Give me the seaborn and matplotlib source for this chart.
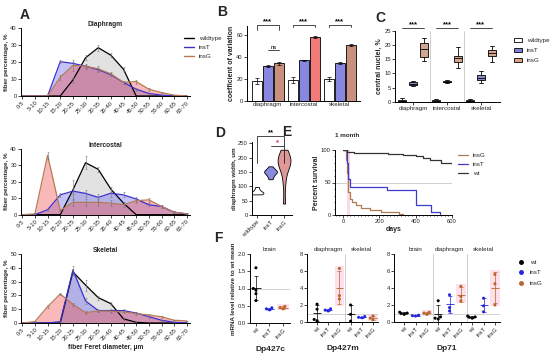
import numpy as np
import pandas as pd
import matplotlib.pyplot as plt
import seaborn as sns
from matplotlib.lines import Line2D
from matplotlib.patches import Patch, Rectangle
from matplotlib.ticker import MultipleLocator

# ---------------- data ----------------
bins = ['0-5', '5-10', '10-15', '15-20', '20-25', '25-30', '30-35', '35-40',
        '40-45', '45-50', '50-55', '55-60', '60-65', '65-70']

# A: fiber size distribution, %
dia_wt = [0, 0, 0, 0, 9.4, 22.5, 28.4, 24, 15.7, 0, 0, 0, 0, 0]
dia_insT = [0, 0, 0, 20.2, 19.2, 17.5, 15.5, 12.5, 8, 4, 1.5, 0.5, 0, 0]
dia_insG = [0, 0, 0, 11, 18, 17.5, 16, 13, 8, 8.5, 4, 2, 0.5, 0]
dia_wt_err = [0, 0, 0, 0, 2, 1.5, 1.8, 1.2, 1.2, 0, 0, 0, 0, 0]
dia_insT_err = [0, 0, 0, 0.8, 1, 1, 1.2, 1, 1, 0.8, 0.5, 0.3, 0, 0]
dia_insG_err = [0, 0, 0, 1.5, 3, 1.5, 1.5, 1.2, 1, 1.2, 0.8, 0.5, 0.3, 0]

int_wt = [0, 0, 0, 0, 15, 31.5, 27.5, 15.5, 7, 0, 0, 0, 0, 0]
int_insT = [0, 0, 3, 12, 14.3, 12.9, 10.5, 13, 12, 9.5, 6, 5, 1.5, 0.5]
int_insG = [0, 0.5, 36, 2.5, 7.5, 7.5, 7.5, 7, 6, 8.5, 9, 5, 1.5, 0.5]
int_wt_err = [0, 0, 0, 0, 6, 4, 1.5, 1.5, 1, 0, 0, 0, 0, 0]
int_insT_err = [0, 0, 0.5, 1, 1.5, 2, 2, 2, 1.5, 1.5, 1, 1, 0.5, 0.3]
int_insG_err = [0, 0.3, 2, 0.5, 2, 2, 2, 2, 1.5, 1.5, 1, 1, 0.5, 0.3]

skel_wt = [0, 0, 0, 0, 37, 27.5, 18.4, 14, 3, 0.5, 0, 0, 0, 0]
skel_insT = [0, 0, 0, 1, 38.4, 16, 9, 9, 9, 7.2, 4.6, 2, 0.5, 0]
skel_insG = [0, 1, 11.8, 21, 13.5, 7.5, 8.7, 8.5, 8, 6.8, 5.8, 4.5, 2, 1.5]
skel_wt_err = [0, 0, 0, 0, 2, 4, 1.5, 1, 0.5, 0.3, 0, 0, 0, 0]
skel_insT_err = [0, 0, 0, 0.5, 3, 2, 1, 1, 1, 1, 0.8, 0.5, 0.3, 0]
skel_insG_err = [0, 0.3, 1, 1, 1, 1, 1, 1, 1, 1, 0.8, 0.8, 0.5, 0.3]

# B: coefficient of variation
tissues = ['diaphragm', 'intercostal', 'skeletal']
cov_wt = [17.8, 18.7, 20.0]
cov_insT = [31.8, 37.0, 34.6]
cov_insG = [34.0, 57.7, 50.5]
cov_wt_err = [3.0, 3.0, 2.0]
cov_insT_err = [1.0, 0.5, 1.0]
cov_insG_err = [1.5, 1.0, 1.0]

# C: central nuclei, % (whisker low, q1, median, q3, whisker high)
cn_dia_wt = [0.0, 0.2, 0.4, 0.6, 1.3]
cn_dia_insT = [5.5, 6.0, 6.4, 6.8, 7.4]
cn_dia_insG = [14.5, 15.9, 18.5, 20.6, 22.6]
cn_int_wt = [0.0, 0.1, 0.3, 0.5, 0.8]
cn_int_insT = [6.5, 6.8, 7.0, 7.2, 7.5]
cn_int_insG = [11.8, 14.1, 15.3, 16.1, 19.4]
cn_skel_wt = [0.0, 0.1, 0.3, 0.5, 0.8]
cn_skel_insT = [6.5, 7.7, 8.5, 9.4, 10.8]
cn_skel_insG = [14.1, 16.1, 17.3, 18.3, 19.8]

# D: diaphragm width, um
dw_wt = [72, 74, 76, 78, 80, 84, 90, 98]
dw_insT = [125, 135, 142, 148, 150, 152, 156, 160, 170]
dw_insG = [40, 110, 150, 170, 180, 185, 190, 195, 200, 210, 228]

# E: survival, %
surv_wt_days = [0, 20, 60, 150, 250, 330, 400, 440, 480, 540, 600]
surv_wt = [100, 97, 96, 95, 94, 92, 90, 88, 85, 80, 78]
surv_insT_days = [0, 22, 26, 30, 40, 240, 400, 485, 535]
surv_insT = [100, 80, 60, 55, 43, 38, 15, 5, 0]
surv_insG_days = [0, 18, 22, 26, 30, 40, 50, 70, 100, 150, 210, 310, 330]
surv_insG = [100, 85, 65, 45, 35, 25, 20, 15, 11, 8, 5, 2, 0]

# F: mRNA relative to wt mean
f427c_wt = [1.6, 1.0, 0.95, 0.85, 0.65]
f427c_insT = [0.44, 0.41, 0.38]
f427c_insG = [0.48, 0.45, 0.41]
f427m_dia_wt = [2.1, 1.5, 0.3, 0.15]
f427m_dia_insT = [1.55, 1.4, 1.3]
f427m_dia_insG = [6.3, 3.1, 2.7]
f427m_sk_wt = [2.0, 0.9, 0.1]
f427m_sk_insT = [0.65, 0.55, 0.5]
f427m_sk_insG = [0.7, 0.45, 0.25]
f71_br_wt = [1.15, 1.05, 1.0, 0.9]
f71_br_insT = [0.8, 0.75, 0.7]
f71_br_insG = [1.15, 1.05, 0.9]
f71_dia_wt = [2.5, 0.6, 0.45, 0.35]
f71_dia_insT = [3.2, 1.3, 1.7]
f71_dia_insG = [4.2, 3.0, 2.5]
f71_sk_wt = [0.7, 0.55, 0.45, 0.6]
f71_sk_insT = [2.8, 1.9, 1.2]
f71_sk_insG = [5.6, 4.5, 2.0]

# ---------------- style ----------------
sns.set_style('ticks')
plt.rcParams['font.family'] = ['Liberation Sans', 'DejaVu Sans']
plt.rcParams.update({'axes.linewidth': 0.7, 'axes.edgecolor': 'black',
                     'xtick.major.width': 0.6, 'ytick.major.width': 0.6,
                     'xtick.major.size': 2, 'ytick.major.size': 2,
                     'xtick.minor.size': 1, 'ytick.minor.size': 1,
                     'xtick.labelsize': 4.2, 'ytick.labelsize': 4.2,
                     'xtick.major.pad': 1, 'ytick.major.pad': 1})

W, H = 550, 353
fig = plt.figure(figsize=(W / 100, H / 100), dpi=100)


def add_ax(x0, y0, x1, y1):
    # pixel box, y measured from top
    return fig.add_axes([x0 / W, 1 - y1 / H, (x1 - x0) / W, (y1 - y0) / H])


def bracket(ax, x0, x1, y, h, text, fs=5.5, color='black'):
    ax.plot([x0, x0, x1, x1], [y - h, y, y, y - h], color='black', lw=0.5, clip_on=False)
    ax.text((x0 + x1) / 2, y, text, ha='center', va='bottom', fontsize=fs,
            fontweight='bold', color=color, clip_on=False)


geno = ['wildtype', 'insT', 'insG']
line_col = {'wildtype': 'black', 'insT': '#3a30d0', 'insG': '#b87a55'}
fill_col = {'wildtype': '#b8b8b8', 'insT': '#6a6af0', 'insG': '#f05050'}

# ---------------- A ----------------
a_sets = [
    ('Diaphragm', [(dia_wt, dia_wt_err), (dia_insT, dia_insT_err), (dia_insG, dia_insG_err)], 40, 28, 96),
    ('Intercostal', [(int_wt, int_wt_err), (int_insT, int_insT_err), (int_insG, int_insG_err)], 40, 148.7, 214.7),
    ('Skeletal', [(skel_wt, skel_wt_err), (skel_insT, skel_insT_err), (skel_insG, skel_insG_err)], 50, 254, 323),
]
xb = np.arange(len(bins))
for i, (title, series, ymax, y0, y1) in enumerate(a_sets):
    ax = add_ax(21, y0, 190, y1)
    for g, (vals, errs) in zip(geno, series):
        ax.fill_between(xb, vals, color=fill_col[g], alpha=0.4, lw=0)
        sns.lineplot(x=xb, y=vals, color=line_col[g], lw=0.9, ax=ax)
        ax.errorbar(xb, vals, yerr=errs, fmt='none', ecolor='#777777', elinewidth=0.4, capsize=1, capthick=0.4)
    ax.set_xticks(xb, bins, rotation=45, ha='right', rotation_mode='anchor')
    ax.set_xlim(-0.1, 13.25)
    ax.set_ylim(0, ymax)
    ax.yaxis.set_major_locator(MultipleLocator(10))
    ax.set_ylabel('fiber percentage, %', fontsize=4.5, fontweight='bold', labelpad=1)
    ax.set_title(title, fontsize=4.8, fontweight='bold', pad=1.5)
    sns.despine(ax=ax)
    if i == 0:
        handles = [Line2D([], [], color=line_col[g], lw=1) for g in geno]
        ax.legend(handles, geno, fontsize=4.5, frameon=False, loc='upper left',
                  bbox_to_anchor=(0.93, 0.97), handlelength=1.6, labelspacing=0.6)
    if i == 2:
        ax.set_xlabel('fiber Feret diameter, µm', fontsize=4.8, fontweight='bold', labelpad=2)

# ---------------- B ----------------
ax = add_ax(247, 26, 360, 100.7)
df_b = pd.DataFrame({'tissue': tissues * 3,
                     'genotype': [g for g in geno for _ in tissues],
                     'cov': cov_wt + cov_insT + cov_insG})
sns.barplot(data=df_b, x='tissue', y='cov', hue='genotype', hue_order=geno,
            palette={'wildtype': 'white', 'insT': '#7878ee', 'insG': '#d09080'},
            width=0.92, gap=0.12, edgecolor='black', linewidth=0.6, errorbar=None,
            legend=False, ax=ax)
insG_cols = ['#c9917d', '#f07b78', '#c9917d']
for bar, c in zip(ax.containers[2], insG_cols):
    bar.set_facecolor(c)
for cont, errs in zip(ax.containers, [cov_wt_err, cov_insT_err, cov_insG_err]):
    xs = [b.get_x() + b.get_width() / 2 for b in cont]
    ys = [b.get_height() for b in cont]
    ax.errorbar(xs, ys, yerr=errs, fmt='none', ecolor='black', elinewidth=0.5, capsize=1.5, capthick=0.5)
ax.set_xlim(-0.58, 2.56)
ax.set_ylim(0, 68)
ax.yaxis.set_major_locator(MultipleLocator(20))
ax.set_xlabel('')
ax.set_ylabel('coefficient of variation', fontsize=5, fontweight='bold', labelpad=1)
ax.tick_params(axis='x', length=0, labelsize=4.5)
for k in range(3):
    bracket(ax, k - 0.3, k + 0.3, 69, 5 if k == 0 else 2, '***')
bracket(ax, 0.0, 0.3, 46, 0, 'ns', fs=4.2)
ax.texts[-1].set_fontweight('normal')
sns.despine(ax=ax)

# ---------------- C ----------------
ax = add_ax(395, 31, 500, 101.7)
cn_rows = []
for t, sets in zip(tissues, [(cn_dia_wt, cn_dia_insT, cn_dia_insG),
                             (cn_int_wt, cn_int_insT, cn_int_insG),
                             (cn_skel_wt, cn_skel_insT, cn_skel_insG)]):
    for g, vals in zip(geno, sets):
        for v in vals:
            cn_rows.append((t, g, v))
df_c = pd.DataFrame(cn_rows, columns=['tissue', 'genotype', 'nuclei'])
c_pal = {'wildtype': 'white', 'insT': '#7b80d8', 'insG': '#dba38a'}
sns.boxplot(data=df_c, x='tissue', y='nuclei', hue='genotype', hue_order=geno, palette=c_pal,
            width=0.97, gap=0.35, whis=(0, 100), linewidth=0.6, linecolor='black',
            legend=False, ax=ax)
for xv in (0.5, 1.5):
    ax.axvline(xv, color='#bbbbbb', lw=0.5)
ax.set_xlim(-0.53, 2.56)
ax.set_ylim(0, 25)
ax.yaxis.set_major_locator(MultipleLocator(5))
ax.set_xlabel('')
ax.set_ylabel('central nuclei, %', fontsize=5, fontweight='bold', labelpad=1)
ax.tick_params(axis='x', length=2, labelsize=4.5)
for k in range(3):
    bracket(ax, k - 0.32, k + 0.32, 26, 0, '***')
sns.despine(ax=ax)
c_handles = [Patch(facecolor=c_pal[g], edgecolor='black', lw=0.6) for g in geno]
ax.legend(c_handles, geno, fontsize=4.5, frameon=False, loc='upper left',
          bbox_to_anchor=(1.08, 0.98), handlelength=1.2, handleheight=0.7, labelspacing=0.7)

# ---------------- D ----------------
ax = add_ax(252, 142, 292, 215)
df_d = pd.DataFrame({'genotype': ['wildtype'] * len(dw_wt) + ['insT'] * len(dw_insT) + ['insG'] * len(dw_insG),
                     'width': dw_wt + dw_insT + dw_insG})
sns.violinplot(data=df_d, x='genotype', y='width', hue='genotype', order=geno, hue_order=geno,
               palette={'wildtype': 'white', 'insT': '#7c7cea', 'insG': '#ea8c8c'},
               cut=0, inner=None, linewidth=0.6, linecolor='black', density_norm='width',
               width=0.95, bw_adjust=0.8, legend=False, ax=ax)
ax.set_xlim(-0.37, 2.59)
ax.set_ylim(0, 255)
ax.yaxis.set_major_locator(MultipleLocator(50))
ax.set_xlabel('')
ax.set_ylabel('diaphragm width, um', fontsize=4.5, fontweight='bold', labelpad=1)
ax.set_xticks([0, 1, 2], geno, rotation=45, ha='right', rotation_mode='anchor', fontsize=4.2)
bracket(ax, 0, 2, 275, 95, '**')
bracket(ax, 1, 2, 240, 0, '*', color='#d03060')
sns.despine(ax=ax)

# ---------------- E ----------------
ax = add_ax(335, 150, 452, 215)
e_col = {'wt': '#333333', 'insT': '#3c3ccc', 'insG': '#b07a50'}
for g, d, s in [('insG', surv_insG_days, surv_insG), ('insT', surv_insT_days, surv_insT),
                ('wt', surv_wt_days, surv_wt)]:
    sns.lineplot(x=d, y=s, drawstyle='steps-post', color=e_col[g], lw=0.9, label=g, ax=ax)
ax.axhline(50, color='#c8c8c8', lw=0.6, zorder=0)
ax.axvline(30, color='#999999', lw=0.5, ls='--', zorder=0)
ax.axvspan(22, 38, color='#fbd9e6', lw=0, zorder=0)
ax.set_xlim(-44, 600)
ax.set_ylim(0, 100)
ax.xaxis.set_major_locator(MultipleLocator(200))
ax.xaxis.set_minor_locator(MultipleLocator(20))
ax.yaxis.set_major_locator(MultipleLocator(50))
ax.yaxis.set_minor_locator(MultipleLocator(10))
ax.set_xlabel('days', fontsize=5, fontweight='bold', labelpad=1)
ax.set_ylabel('Percent survival', fontsize=5, fontweight='bold', labelpad=1)
ax.legend(fontsize=4.5, frameon=False, loc='upper left', bbox_to_anchor=(1.0, 1.05),
          handlelength=1.6, labelspacing=0.6)
sns.despine(ax=ax)
fig.text(347 / W, 1 - 136 / H, '1 month', fontsize=4.5, fontweight='bold', ha='center', va='center')

# ---------------- F ----------------
f_col = {'wt': 'black', 'insT': '#2424e0', 'insG': '#b8652a'}
short = ['wt', 'insT', 'insG']


def mrna_panel(box, groups, ymax, step, titles, xlabel, ylabel=None):
    ax = add_ax(*box)
    rows = []
    pos = []
    p = 0
    for gi, group in enumerate(groups):
        for g, vals in zip(short, group):
            for v in vals:
                rows.append((p, g, v))
            arr = np.array(vals)
            m, sd = arr.mean(), arr.std(ddof=1)
            if g == 'insG':
                lo = min(arr.min(), m - sd) - ymax * 0.02
                hi = max(arr.max(), m + sd) + ymax * 0.03
                ax.add_patch(Rectangle((p - 0.42, lo), 0.84, hi - lo, color='#fde0ea', lw=0, zorder=0))
            ax.errorbar(p, m, yerr=sd, fmt='none', ecolor=f_col[g], elinewidth=0.5, capsize=1.5, capthick=0.5)
            ax.hlines(m, p - 0.35, p + 0.35, color=f_col[g], lw=0.6)
            pos.append(p)
            p += 1
        if gi < len(groups) - 1:
            ax.axvline(p - 0.5, color='#bbbbbb', lw=0.5)
    df = pd.DataFrame(rows, columns=['pos', 'genotype', 'level'])
    sns.swarmplot(data=df, x='pos', y='level', hue='genotype', hue_order=short, palette=f_col,
                  native_scale=True, size=2.2, legend=False, ax=ax)
    ax.axhline(1, color='#cccccc', lw=0.6, zorder=0)
    ax.set_xticks(pos, short * len(groups), rotation=45, ha='right', rotation_mode='anchor', fontsize=4.2)
    ax.set_xlim(-0.9 if len(groups) > 1 else -0.44, pos[-1] + 0.45 if len(groups) > 1 else 2.52)
    ax.set_ylim(0, ymax)
    ax.yaxis.set_major_locator(MultipleLocator(step))
    if step < 1:
        ax.yaxis.set_major_formatter('{x:.1f}')
    ax.set_xlabel(xlabel, fontsize=6, fontweight='bold', labelpad=5)
    ax.set_ylabel(ylabel if ylabel else '', fontsize=4.5, fontweight='bold', labelpad=1)
    for k, t in enumerate(titles):
        ax.text(1 + 3 * k, ymax * 1.03, t, ha='center', va='bottom', fontsize=4.5)
    sns.despine(ax=ax)
    return ax


mrna_panel((250, 254, 290, 323), [(f427c_wt, f427c_insT, f427c_insG)], 2.0, 0.5,
           ['brain'], 'Dp427c', 'mRNA level relative to wt mean')
mrna_panel((307, 254, 378, 322), [(f427m_dia_wt, f427m_dia_insT, f427m_dia_insG),
                                  (f427m_sk_wt, f427m_sk_insT, f427m_sk_insG)], 8, 2,
           ['diaphragm', 'skeletal'], 'Dp427m')
ax = mrna_panel((394, 254, 500, 322), [(f71_br_wt, f71_br_insT, f71_br_insG),
                                       (f71_dia_wt, f71_dia_insT, f71_dia_insG),
                                       (f71_sk_wt, f71_sk_insT, f71_sk_insG)], 8, 2,
                ['brain', 'diaphragm', 'skeletal'], 'Dp71')
f_handles = [Line2D([], [], ls='none', marker='o', ms=2.5, color=f_col[g]) for g in short]
ax.legend(f_handles, short, fontsize=4.5, frameon=False, loc='upper left',
          bbox_to_anchor=(1.12, 1.0), handlelength=1.0, labelspacing=0.8)

# ---------------- panel letters ----------------
for letter, x, y in [('A', 25, 15), ('B', 222, 12), ('C', 380, 18), ('D', 220, 133),
                     ('E', 287, 132), ('F', 218, 238)]:
    fig.text(x / W, 1 - y / H, letter, fontsize=10, fontweight='bold', ha='center', va='center')

fig.savefig('out.png', dpi=100)
